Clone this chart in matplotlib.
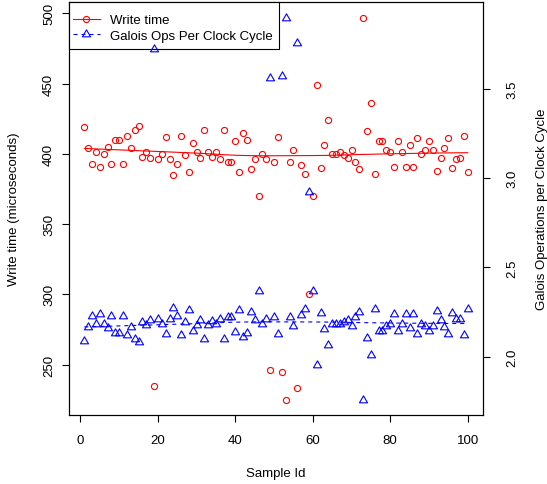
import numpy as np
import matplotlib
matplotlib.use("Agg")
import matplotlib.pyplot as plt
from matplotlib.path import Path
from matplotlib.lines import Line2D
from matplotlib.patches import Rectangle

plt.rcParams['font.family'] = ['Liberation Sans', 'DejaVu Sans']

# ---- data ----
sample_id = np.arange(1, 101)
write_time = [419, 404, 393, 401, 391, 400, 405, 393, 410, 410,
              393, 413, 404, 417, 420, 398, 401, 397, 235, 396,
              400, 412, 396, 385, 393, 413, 399, 387, 408, 401,
              397, 417, 401, 398, 401, 396, 417, 394, 394, 409,
              387, 415, 410, 389, 396, 370, 400, 396, 246, 394,
              412, 245, 225, 394, 403, 233, 392, 386, 300, 370,
              449, 390, 406, 424, 400, 400, 401, 399, 397, 403,
              394, 389, 497, 416, 436, 386, 409, 409, 403, 401,
              391, 409, 401, 391, 406, 391, 411, 400, 403, 409,
              403, 388, 397, 404, 411, 390, 396, 397, 413, 387]
galois_ops = [2.086, 2.165, 2.226, 2.180, 2.236, 2.185, 2.159, 2.226, 2.133, 2.133,
              2.226, 2.118, 2.165, 2.099, 2.080, 2.193, 2.178, 2.204, 3.725, 2.212,
              2.185, 2.124, 2.212, 2.274, 2.226, 2.118, 2.193, 2.260, 2.142, 2.178,
              2.204, 2.099, 2.178, 2.202, 2.180, 2.212, 2.099, 2.223, 2.223, 2.140,
              2.260, 2.109, 2.133, 2.249, 2.204, 2.365, 2.185, 2.208, 3.562, 2.221,
              2.124, 3.575, 3.900, 2.223, 2.174, 3.758, 2.232, 2.268, 2.920, 2.365,
              1.951, 2.245, 2.156, 2.066, 2.185, 2.185, 2.185, 2.193, 2.204, 2.170,
              2.223, 2.251, 1.758, 2.105, 2.010, 2.268, 2.142, 2.142, 2.174, 2.185,
              2.236, 2.142, 2.185, 2.236, 2.159, 2.236, 2.129, 2.185, 2.170, 2.142,
              2.170, 2.258, 2.204, 2.167, 2.129, 2.245, 2.208, 2.208, 2.118, 2.264]
x_ticks = [0, 20, 40, 60, 80, 100]
left_ticks = [250, 300, 350, 400, 450, 500]
right_ticks = [2.0, 2.5, 3.0, 3.5]


def lowess(x, y, f=2/3, iters=3):
    x = np.asarray(x, float); y = np.asarray(y, float)
    n = len(x)
    ns = max(min(int(f * n + 1e-7), n), 2)
    rw = np.ones(n)
    fit = np.zeros(n)
    for it in range(iters + 1):
        for i in range(n):
            d = np.abs(x - x[i])
            h = np.sort(d)[ns - 1]
            w = np.zeros(n)
            r = d / h if h > 0 else d * 0
            m = d <= 0.999 * h
            w[m] = (1 - r[m] ** 3) ** 3
            w[d <= 0.001 * h] = 1.0
            w = w * rw
            sw = w.sum()
            xm = (w * x).sum() / sw
            ym = (w * y).sum() / sw
            sxx = (w * (x - xm) ** 2).sum()
            b = (w * (x - xm) * (y - ym)).sum() / sxx if sxx > 0 else 0
            fit[i] = ym + b * (x[i] - xm)
        if it == iters:
            break
        res = y - fit
        cmad = 6 * np.median(np.abs(res))
        ar = np.abs(res)
        rw = np.zeros(n)
        mm = ar <= 0.999 * cmad
        rw[mm] = (1 - (ar[mm] / cmad) ** 2) ** 2
        rw[ar <= 0.001 * cmad] = 1.0
    return x, fit


def rlim(v):
    lo, hi = min(v), max(v)
    s = hi - lo
    return lo - 0.04 * s, hi + 0.04 * s


tri = Path([(0, 1.0), (-0.866, -0.5), (0.866, -0.5), (0, 1.0)],
           [Path.MOVETO, Path.LINETO, Path.LINETO, Path.CLOSEPOLY])

W, H = 547, 485
AX_L, AX_R, AX_T, AX_B = 69, 483, 3.3, 416
AW, AH = AX_R - AX_L, AX_B - AX_T
fig = plt.figure(figsize=(W / 100, H / 100), dpi=100)
ax = fig.add_axes([AX_L / W, 1 - AX_B / H, AW / W, AH / H])
ax2 = ax.twinx()

fs = 9.5
red = '#FF0000'
blue = '#0000FF'
dash = (0, (3.6, 3.6))

ax.plot(sample_id, write_time, linestyle='none', marker='o', markersize=4.4,
        markerfacecolor='none', markeredgecolor=red, markeredgewidth=0.8)
lx, ly = lowess(sample_id, write_time)
ax.plot(lx, ly, color=red, linewidth=0.8)

ax2.plot(sample_id, galois_ops, linestyle='none', marker=tri, markersize=6.7,
         markerfacecolor='none', markeredgecolor=blue, markeredgewidth=0.8)
gx, gy = lowess(sample_id, galois_ops)
ax2.plot(gx, gy, color=blue, linewidth=0.8, linestyle=dash)

ax.set_xlim(-2.96, 103.96)
ax.set_ylim(*rlim(write_time))
ax2.set_ylim(*rlim(galois_ops))

ax.set_xticks(x_ticks)
ax.set_xticklabels([str(t) for t in x_ticks])
ax.set_yticks(left_ticks)
ax.set_yticklabels([str(t) for t in left_ticks], rotation=90, va='center')
ax2.set_yticks(right_ticks)
ax2.set_yticklabels([f"{t:.1f}" for t in right_ticks], rotation=90, va='center')

for a in (ax, ax2):
    for s in a.spines.values():
        s.set_linewidth(0.8)
        s.set_color('black')
ax.tick_params(axis='x', length=5, width=0.8, pad=9, labelsize=fs)
ax.tick_params(axis='y', length=5, width=0.8, pad=5, labelsize=fs)
ax2.tick_params(axis='y', length=5, width=0.8, pad=12, labelsize=fs)

ax.set_xlabel('Sample Id', fontsize=fs, va='center')
ax.xaxis.set_label_coords(0.5, (AX_B - 474) / AH)
ax.set_ylabel('Write time (microseconds)', fontsize=fs, va='center')
ax.yaxis.set_label_coords((14 - AX_L) / AW, 0.5)
ax2.set_ylabel('Galois Operations per Clock Cycle', fontsize=fs, va='center')
ax2.yaxis.set_label_coords((542.5 - AX_L) / AW, 0.5)

# legend box
box = Rectangle((0, (AX_B - 50) / AH), (279 - AX_L) / AW, 1 - (AX_B - 50) / AH,
                transform=ax.transAxes, facecolor='white', edgecolor='black',
                linewidth=0.8, zorder=4, clip_on=False)
ax.add_patch(box)

handles = [
    Line2D([], [], color=red, linewidth=0.8, marker='o', markersize=4.4,
           markerfacecolor='none', markeredgecolor=red, markeredgewidth=0.8),
    Line2D([], [], color=blue, linewidth=0.8, linestyle=dash, marker=tri,
           markersize=6.7, markerfacecolor='none', markeredgecolor=blue,
           markeredgewidth=0.8),
]
leg = ax.legend(handles, ['Write time', 'Galois Ops Per Clock Cycle'],
                loc='upper left', bbox_to_anchor=(-0.5 / AW, 1 - 7 / AH),
                borderaxespad=0, frameon=False, fontsize=fs,
                handlelength=2.0, handletextpad=0.8, borderpad=0.35,
                labelspacing=0.25, numpoints=1)
leg.set_zorder(5)

fig.savefig('out.png', dpi=100)
